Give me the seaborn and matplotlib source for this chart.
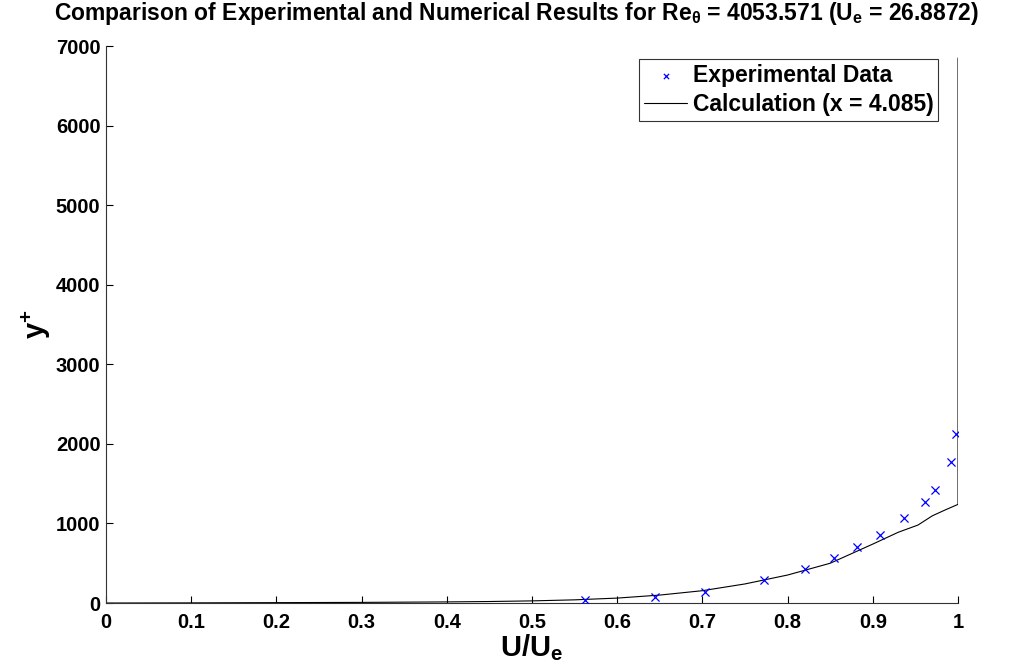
import matplotlib
matplotlib.use("Agg")
import matplotlib.pyplot as plt
import seaborn as sns
import pandas as pd

# Experimental mean-velocity profile
exp_u = [0.562, 0.644, 0.703, 0.772, 0.820, 0.854, 0.882, 0.908, 0.937, 0.961, 0.973, 0.992, 0.998]
exp_yplus = [38, 72, 142, 285, 427, 561, 707, 850, 1064, 1273, 1415, 1768, 2120]

# Computed profile at x = 4.085
calc_u = [0.0, 0.1, 0.2, 0.3, 0.4, 0.45, 0.5, 0.55, 0.6, 0.65, 0.7, 0.75, 0.8, 0.85,
          0.9, 0.93, 0.953, 0.97, 0.985, 1.0, 1.0]
calc_yplus = [0, 2, 5, 8, 14, 19, 27, 40, 62, 100, 155, 240, 352, 500,
              741, 890, 980, 1097, 1170, 1240, 6850]

xticks = [0, 0.1, 0.2, 0.3, 0.4, 0.5, 0.6, 0.7, 0.8, 0.9, 1]
xticklabels = ["0", "0.1", "0.2", "0.3", "0.4", "0.5", "0.6", "0.7", "0.8", "0.9", "1"]
yticks = [0, 1000, 2000, 3000, 4000, 5000, 6000, 7000]

sns.set_style("ticks")
plt.rcParams["font.family"] = ["Liberation Sans", "DejaVu Sans"]
plt.rcParams["font.weight"] = "bold"
plt.rcParams["text.color"] = "black"
plt.rcParams["axes.labelcolor"] = "black"
plt.rcParams["xtick.color"] = "black"
plt.rcParams["ytick.color"] = "black"
plt.rcParams["mathtext.fontset"] = "custom"
plt.rcParams["mathtext.rm"] = "Liberation Sans:bold"
plt.rcParams["mathtext.it"] = "Liberation Sans:italic"
plt.rcParams["mathtext.bf"] = "Liberation Sans:bold"

exp_df = pd.DataFrame({"u": exp_u, "yplus": exp_yplus})
calc_df = pd.DataFrame({"u": calc_u, "yplus": calc_yplus})

fig = plt.figure(figsize=(10.34, 6.71), dpi=100)
ax = fig.add_axes([0.1025, 0.1013, 0.824, 0.830])

sns.scatterplot(data=exp_df, x="u", y="yplus", ax=ax, marker="x", color="#0000ff",
                s=34, linewidth=0.9, label="Experimental Data", zorder=3)
sns.lineplot(data=calc_df, x="u", y="yplus", ax=ax, sort=False, estimator=None,
             color="black", linewidth=0.8, label="Calculation (x = 4.085)")

ax.set_xlim(0, 1)
ax.set_ylim(0, 7000)
ax.set_xticks(xticks)
ax.set_xticklabels(xticklabels)
ax.set_yticks(yticks)
ax.tick_params(direction="in", length=5, width=0.8, labelsize=14.5)
ax.tick_params(axis="x", pad=7)
ax.tick_params(axis="y", pad=4)
for lbl in ax.get_xticklabels() + ax.get_yticklabels():
    lbl.set_fontweight("bold")
sns.despine(ax=ax, top=True, right=True)
for sp in ("left", "bottom"):
    ax.spines[sp].set_linewidth(0.8)
    ax.spines[sp].set_color("#333333")

ax.set_xlabel(r"U/U$_{\rm e}$", fontsize=21, fontweight="bold", labelpad=0)
ax.set_ylabel(r"y$^{+}$", fontsize=21, fontweight="bold", labelpad=2)

fig.text(0.5, 0.970,
         r"Comparison of Experimental and Numerical Results for Re$_{\rm θ}$ = 4053.571 (U$_{\rm e}$ = 26.8872)",
         ha="center", va="baseline", fontsize=16.5, fontweight="bold")

leg = ax.legend(loc="upper right", bbox_to_anchor=(0.977, 0.976), fontsize=16.5,
                frameon=True, fancybox=False, edgecolor="black", borderpad=0.2,
                handlelength=1.9, handletextpad=0.25, labelspacing=0.28, markerscale=0.65,
                borderaxespad=0)
leg.get_frame().set_linewidth(0.8)
for t in leg.get_texts():
    t.set_fontweight("bold")

fig.savefig("out.png", dpi=100, facecolor="white")
